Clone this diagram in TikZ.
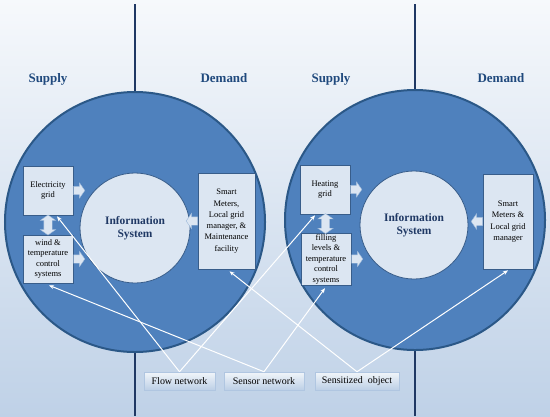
\documentclass[tikz,border=0pt]{standalone}
\usepackage{fontspec}
\setmainfont{Liberation Serif}
\usetikzlibrary{arrows.meta,positioning,calc,shapes.arrows,shadows}

\definecolor{ringblue}{HTML}{4F81BD}
\definecolor{ringedge}{HTML}{2B5887}
\definecolor{paleblue}{HTML}{DCE6F2}
\definecolor{navy}{HTML}{1F3864}
\definecolor{headblue}{HTML}{1F497D}
\definecolor{boxedge}{HTML}{385D8A}

\begin{document}
\begin{tikzpicture}[x=1bp, y=-1bp,
  ring/.style={circle, draw=ringedge, line width=2bp, fill=ringblue, minimum size=260bp, inner sep=0pt},
  core/.style={circle, draw=boxedge, line width=0.8bp, fill=paleblue, minimum size=110bp, inner sep=0pt, align=center, font=\fontsize{11.5}{13.5}\selectfont\bfseries, text=navy},
  part/.style={draw=boxedge, line width=0.6bp, fill=paleblue, align=center, inner sep=1pt, minimum width=50bp, font=\fontsize{8.5}{10.5}\selectfont, drop shadow={shadow xshift=1bp, shadow yshift=-1bp, opacity=.3}},
  side/.style={font=\fontsize{13}{15}\selectfont\bfseries, text=headblue, anchor=base},
  push/.style={single arrow, draw=paleblue!55!ringblue, fill=paleblue, line width=0.4bp, minimum width=0pt, minimum height=10bp, inner sep=4bp, single arrow head extend=3.5bp, single arrow tip angle=110},
  both/.style={double arrow, draw=paleblue!55!ringblue, fill=paleblue, line width=0.4bp, minimum width=0pt, minimum height=20bp, inner sep=4bp, double arrow head extend=3.5bp, double arrow tip angle=110, shape border rotate=90},
  tag/.style={draw=ringblue!45, line width=0.5bp, top color=paleblue!40!white, bottom color=ringblue!38, minimum height=18bp, font=\fontsize{10}{12}\selectfont, drop shadow={shadow xshift=1bp, shadow yshift=-1bp, opacity=.25}},
  divider/.style={draw=navy, line width=1.8bp},
  link/.style={white, line width=1bp, -{Stealth[length=5bp, width=4bp]}}
]

% backdrop and the two halves
\shade[top color=white!75!paleblue, bottom color=paleblue!60!ringblue!70] (0,0) rectangle (550,416);
\draw[divider] (135,4) -- (135,416);
\draw[divider] (415,4) -- (415,416);

\node[side] (supL) at (48,82) {Supply};
\node[side] (demL) at (224,82) {Demand};
\node[side] (supR) at (331,82) {Supply};
\node[side] (demR) at (501,82) {Demand};

\node[ring] (ringL) at (135,222) {};
\node[ring] (ringR) at (415,220) {};

\node[core] (infoL) at (135,228) {Information\\System};
\node[core, minimum size=108bp] (infoR) at (414,225) {Information\\System};

% electricity side
\node[part, minimum height=49bp] (elec) at (48,190.5) {Electricity\\grid};
\node[part, minimum height=48bp] (wind) at (48,259) {wind \&\\temperature\\control\\systems};
\node[part, minimum width=57bp, minimum height=96bp, font=\fontsize{8.5}{11.3}\selectfont] (meterL) at (226.5,221) {Smart\\Meters,\\Local grid\\manager, \&\\Maintenance\\facility};

% heating side
\node[part, minimum height=49bp] (heat) at (325,189.5) {Heating\\grid};
\node[part, minimum height=48bp] (fill) at (326,259) {filling\\levels \&\\temperature\\control\\systems};
\node[part, minimum height=95bp, font=\fontsize{8.5}{11.3}\selectfont] (meterR) at (508,221.5) {Smart\\Meters \&\\Local grid\\manager};

\node[push, right=0pt of elec] (elecIn) {};
\node[push, right=0pt of wind] (windIn) {};
\node[push, shape border rotate=180, left=0pt of meterL] (meterLIn) {};
\node[both] (elecWind) at ($(elec.south)!.5!(wind.north)$) {};

\node[push, right=0pt of heat] (heatIn) {};
\node[push, right=0pt of fill] (fillIn) {};
\node[push, shape border rotate=180, left=0pt of meterR] (meterRIn) {};
\node[both] (heatFill) at ($(heat.south)!.5!(fill.north)$) {};

% object classes
\node[tag, minimum width=71bp] (flow) at (179.5,381) {Flow network};
\node[tag, minimum width=80bp] (sensor) at (264,381) {Sensor network};
\node[tag, minimum width=84bp] (object) at (357,381) {Sensitized\ \ object};

\draw[link] (flow.north) -- ($(elec.south)+(9,1)$);
\draw[link] (flow.north) -- ($(heat.south)+(-10,1)$);
\draw[link] (sensor.north) -- ($(wind.south)+(1,2)$);
\draw[link] (sensor.north) -- ($(fill.south)+(-1,3)$);
\draw[link] (object.north) -- ($(meterL.south)+(3,2)$);
\draw[link] (object.north) -- ($(meterR.south)+(0,1)$);

\end{tikzpicture}
\end{document}
